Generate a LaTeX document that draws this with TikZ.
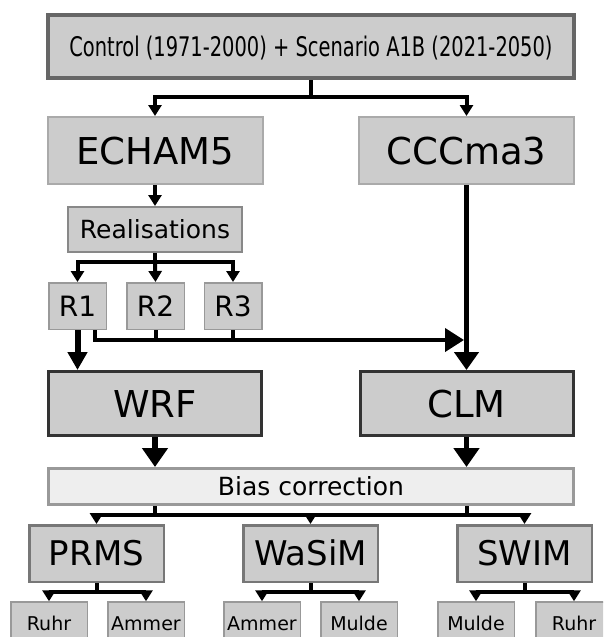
\documentclass[tikz,border=0pt]{standalone}
\usepackage{fontspec}
\setmainfont{DejaVu Sans}
\newfontfamily\narrowfont[FakeStretch=0.72]{DejaVu Sans}
\usetikzlibrary{arrows.meta,positioning}

\definecolor{boxfill}{HTML}{CCCCCC}
\definecolor{biasfill}{HTML}{EEEEEE}
\definecolor{ctrlline}{HTML}{666666}
\definecolor{gcmline}{HTML}{AAAAAA}
\definecolor{realline}{HTML}{888888}
\definecolor{runline}{HTML}{999999}
\definecolor{rcmline}{HTML}{333333}
\definecolor{hydroline}{HTML}{777777}

\tikzset{
  box/.style={draw, fill=boxfill, inner sep=0pt, text depth=0pt},
  ctrlbox/.style={box, draw=ctrlline, line width=4pt, minimum width=526pt, minimum height=63pt,
    font=\narrowfont\fontsize{27}{30}\selectfont, text height=19.7pt},
  gcm/.style={box, draw=gcmline, line width=2pt, minimum width=215pt, minimum height=67pt,
    font=\fontsize{37}{40}\selectfont, text height=27pt},
  realbox/.style={box, draw=realline, line width=2pt, minimum width=174pt, minimum height=45pt,
    font=\fontsize{25}{28}\selectfont, text height=18.2pt},
  runbox/.style={box, draw=runline, line width=1.5pt, minimum width=57.5pt, minimum height=46.5pt,
    font=\fontsize{28}{30}\selectfont, text height=20.4pt},
  rcm/.style={box, draw=rcmline, line width=3pt, minimum width=213pt, minimum height=64pt,
    font=\fontsize{37}{40}\selectfont, text height=27pt},
  biasbox/.style={box, fill=biasfill, draw=runline, line width=3pt, minimum width=525pt, minimum height=36pt,
    font=\fontsize{25}{28}\selectfont, text height=18.2pt},
  hydro/.style={box, draw=hydroline, line width=2.5pt, minimum width=134.5pt, minimum height=56.5pt,
    font=\fontsize{34}{36}\selectfont, text height=24.8pt},
  basin/.style={box, draw=runline, line width=1.5pt, minimum width=76.5pt, minimum height=44pt,
    font=\fontsize{19}{21}\selectfont, text height=13.9pt},
  conn/.style={line width=4pt},
  arr/.style={conn, -{Triangle[length=11pt,width=13pt]}},
  bigarr/.style={line width=5.5pt, -{Triangle[length=19pt,width=25pt]}},
}

\begin{document}
\begin{tikzpicture}[x=1pt, y=-1pt]
  \path[use as bounding box, clip] (0,0) rectangle (603,637);

  % forcing and global models
  \node[ctrlbox] (ctrl) at (311,46.5) {Control (1971-2000) + Scenario A1B (2021-2050)};
  \node[gcm] (echam) at (155,150.5) {ECHAM5};
  \node[gcm] (ccc) at (466.5,150.5) {CCCma3};

  % realisations
  \node[realbox] (real) at (155,229.5) {Realisations};
  \node[runbox] (r1) at (77.5,306) {R1};
  \node[runbox] (r2) at (155.5,306) {R2};
  \node[runbox] (r3) at (233,306) {R3};

  % regional models
  \node[rcm] (wrf) at (155,403.5) {WRF};
  \node[rcm] (clm) at (466.5,403.5) {CLM};
  \node[biasbox] (bias) at (311,486.5) {Bias correction};

  % hydrological models
  \node[hydro] (prms) at (96.5,553.5) {PRMS};
  \node[hydro] (wasim) at (310.5,553.5) {WaSiM};
  \node[hydro] (swim) at (524.5,553.5) {SWIM};

  % catchments
  \node[basin] (ruhrA) at (49,624) {Ruhr};
  \node[basin] (ammerA) at (146,624) {Ammer};
  \node[basin] (ammerB) at (262,624) {Ammer};
  \node[basin] (muldeA) at (359,624) {Mulde};
  \node[basin] (muldeB) at (476,624) {Mulde};
  \node[basin] (ruhrB) at (574,624) {Ruhr};

  % connectors
  \draw[conn] (ctrl.south) -- ++(0,17) coordinate (cbus);
  \draw[arr] (cbus) -| (echam.north);
  \draw[arr] (cbus) -| (ccc.north);

  \draw[arr] (echam.south) -- (real.north);
  \draw[conn] (real.south) -- ++(0,9) coordinate (rbus);
  \draw[arr] (rbus) -| (r1.north);
  \draw[arr] (rbus) -- (r2.north);
  \draw[arr] (rbus) -| (r3.north);

  \coordinate (runs) at (95,340);
  \draw[line width=6pt, -{Triangle[length=18pt,width=19pt]}] (r1.south) -- (r1.south |- wrf.north);
  \draw[conn] (r2.south) -- (r2.south |- runs);
  \draw[conn] (r3.south) -- (r3.south |- runs);
  \draw[conn, -{Triangle[length=19pt,width=23pt]}, shorten >=2.5pt]
    (r1.south -| runs) -- (runs) -- (runs -| ccc.south);
  \draw[line width=4.5pt, -{Triangle[length=18pt,width=24pt]}] (ccc.south) -- (clm.north);

  \draw[bigarr] (wrf.south) -- (wrf.south |- bias.north);
  \draw[bigarr] (clm.south) -- (clm.south |- bias.north);

  \coordinate (bbus) at (311,515);
  \draw[conn] (bias.south -| wrf.south) -- (bbus -| wrf.south);
  \draw[conn] (bias.south -| clm.south) -- (bbus -| clm.south);
  \draw[arr] (bbus -| wasim.north) -| (prms.north);
  \draw[arr] (bbus -| wasim.north) -| (swim.north);
  \draw[arr] (bbus -| wasim.north) -- (wasim.north);

  \draw[conn] (prms.south) -- ++(0,9) coordinate (pbus);
  \draw[arr] (pbus) -| (ruhrA.north);
  \draw[arr] (pbus) -| (ammerA.north);
  \draw[conn] (wasim.south) -- ++(0,9) coordinate (wbus);
  \draw[arr] (wbus) -| (ammerB.north);
  \draw[arr] (wbus) -| (muldeA.north);
  \draw[conn] (swim.south) -- ++(0,9) coordinate (sbus);
  \draw[arr] (sbus) -| (muldeB.north);
  \draw[arr] (sbus) -| (ruhrB.north);
\end{tikzpicture}
\end{document}
